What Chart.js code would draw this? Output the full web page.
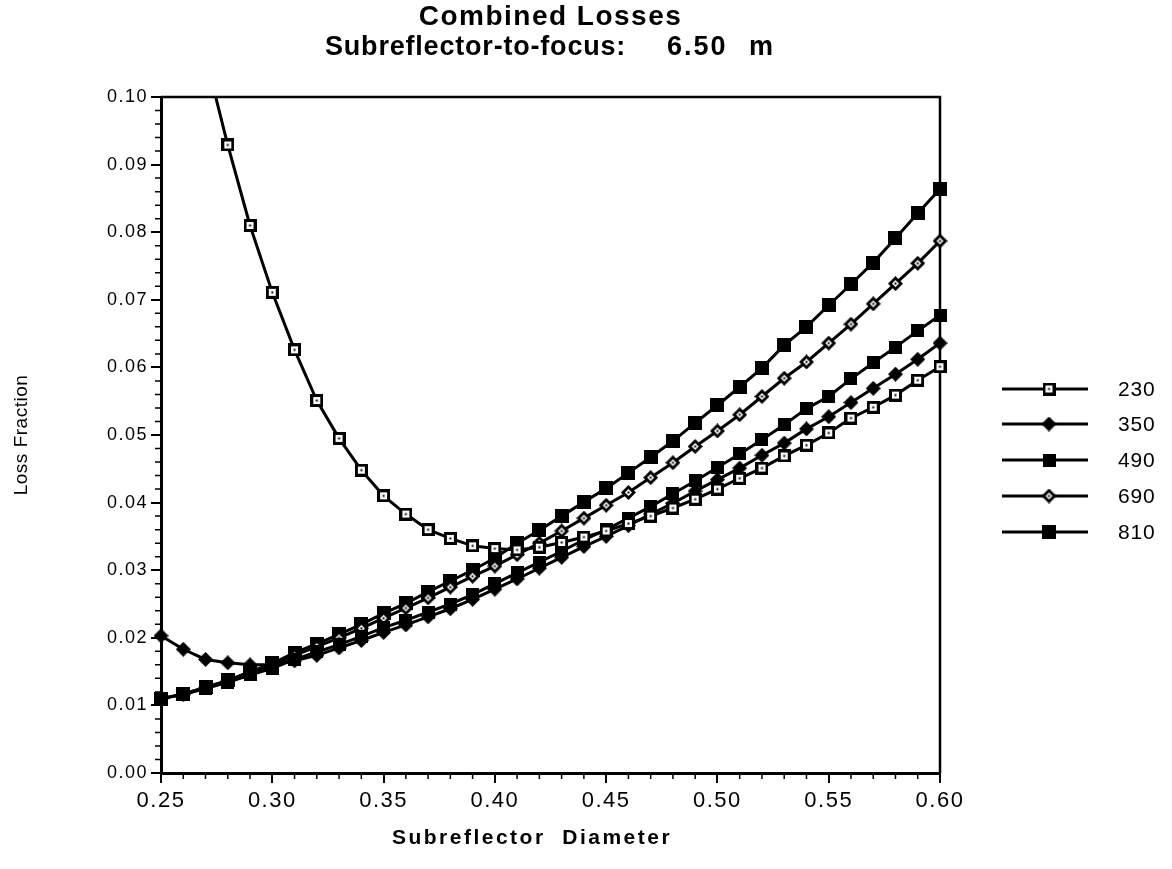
<!DOCTYPE html>
<html>
<head>
<meta charset="utf-8">
<script src="https://cdn.jsdelivr.net/npm/chart.js@4"></script>
<style>
  html, body { margin: 0; padding: 0; background: #fff; }
  #wrap { width: 1172px; height: 869px; }
</style>
</head>
<body>
<div id="wrap"><canvas id="lossChart" width="1172" height="869"></canvas></div>
<script>
// subreflector diameter (m)
const diameters = [0.25,0.26,0.27,0.28,0.29,0.30,0.31,0.32,0.33,0.34,0.35,0.36,
  0.37,0.38,0.39,0.40,0.41,0.42,0.43,0.44,0.45,0.46,0.47,0.48,0.49,0.50,0.51,
  0.52,0.53,0.54,0.55,0.56,0.57,0.58,0.59,0.60];

const seriesNames = ["230", "350", "490", "690", "810"];

const loss230 = [0.138,0.121,0.106,0.0929,0.0810,0.0711,0.0626,0.0551,0.0495,0.0448,
  0.0410,0.0383,0.0360,0.0347,0.0336,0.0332,0.0330,0.0334,0.0341,0.0349,0.0358,
  0.0369,0.0380,0.0392,0.0405,0.0420,0.0436,0.0451,0.0469,0.0485,0.0503,0.0525,
  0.0541,0.0559,0.0581,0.0601];
const loss350 = [0.0203,0.0183,0.0168,0.0163,0.0160,0.0160,0.0166,0.0174,0.0185,0.0196,
  0.0208,0.0219,0.0231,0.0243,0.0257,0.0272,0.0287,0.0303,0.0319,0.0335,0.0350,
  0.0366,0.0383,0.0399,0.0417,0.0434,0.0451,0.0470,0.0488,0.0509,0.0527,0.0548,
  0.0569,0.0590,0.0612,0.0636];
const loss490 = [0.0110,0.0116,0.0125,0.0134,0.0145,0.0155,0.0168,0.0179,0.0190,0.0202,
  0.0215,0.0226,0.0238,0.0250,0.0264,0.0280,0.0296,0.0312,0.0328,0.0345,0.0360,
  0.0377,0.0394,0.0413,0.0432,0.0452,0.0472,0.0493,0.0515,0.0539,0.0557,0.0583,
  0.0607,0.0630,0.0654,0.0677];
const loss690 = [0.0110,0.0116,0.0126,0.0136,0.0148,0.0159,0.0174,0.0187,0.0200,0.0214,
  0.0229,0.0244,0.0259,0.0275,0.0291,0.0306,0.0323,0.0340,0.0358,0.0377,0.0396,
  0.0415,0.0437,0.0459,0.0483,0.0506,0.0530,0.0557,0.0584,0.0608,0.0636,0.0664,
  0.0694,0.0724,0.0754,0.0787];
const loss810 = [0.0110,0.0117,0.0127,0.0137,0.0150,0.0162,0.0178,0.0191,0.0205,0.0220,
  0.0236,0.0251,0.0268,0.0284,0.0300,0.0318,0.0340,0.0359,0.0380,0.0401,0.0421,
  0.0444,0.0467,0.0491,0.0518,0.0544,0.0571,0.0599,0.0633,0.0660,0.0692,0.0723,
  0.0755,0.0791,0.0828,0.0864];

const FONT = '"Liberation Sans", Arial, Helvetica, sans-serif';

// little marker images, the old Mac style symbols
function marker(kind, s) {
    const c = document.createElement("canvas");
    c.width = s; c.height = s;
    const g = c.getContext("2d");
    const h = s / 2;
    g.fillStyle = "#000";
    if (kind === "sq" || kind === "sqOpen") {
        g.fillRect(0, 0, s, s);
        if (kind === "sqOpen") {
            g.fillStyle = "#fff";
            g.fillRect(3, 3, s - 6, s - 6);
            g.fillStyle = "#000";
            g.fillRect(h - 1, h - 1, 2, 2);
        }
    } else {
        g.beginPath();
        g.moveTo(h, 0); g.lineTo(s, h); g.lineTo(h, s); g.lineTo(0, h);
        g.closePath(); g.fill();
        if (kind === "diaOpen") {
            g.fillStyle = "#fff";
            g.beginPath();
            g.moveTo(h, 4); g.lineTo(s - 4, h); g.lineTo(h, s - 4); g.lineTo(4, h);
            g.closePath(); g.fill();
            g.fillStyle = "#000";
            g.fillRect(h - 1, h - 1, 2, 2);
        }
    }
    return c;
}

const markers = [
    marker("sqOpen", 13),
    marker("dia", 15),
    marker("sq", 13),
    marker("diaOpen", 15),
    marker("sq", 14)
];

const allLosses = [loss230, loss350, loss490, loss690, loss810];

const datasets = allLosses.map(function (arr, i) {
    return {
        label: seriesNames[i],
        data: diameters.map(function (d, j) { return { x: d, y: arr[j] }; }),
        borderColor: "#000",
        backgroundColor: "#000",
        borderWidth: 3,
        pointStyle: markers[i],
        pointRadius: 7,
        pointHoverRadius: 7,
        tension: 0,
        clip: { left: 15, top: 0, right: 15, bottom: 15 }
    };
});

function spacedText(ctx, txt, x, y, font, spacing, align) {
    ctx.save();
    ctx.font = font;
    ctx.letterSpacing = spacing + "px";
    ctx.fillStyle = "#000";
    ctx.textBaseline = "middle";
    ctx.textAlign = align || "left";
    ctx.fillText(txt, x, y);
    ctx.restore();
}

const framePlugin = {
    id: "frame",
    beforeDraw(chart) {
        // tick labels of the old plot are a bit spaced out
        chart.ctx.letterSpacing = "1.5px";
    },
    beforeDatasetsDraw(chart) {
        const ctx = chart.ctx;
        ctx.letterSpacing = "0px";
        const a = chart.chartArea;
        const xs = chart.scales.x, ys = chart.scales.y;
        ctx.save();
        ctx.strokeStyle = "#000";
        ctx.lineWidth = 2.5;
        ctx.beginPath();
        ctx.moveTo(a.left, a.top); ctx.lineTo(a.right, a.top);
        ctx.lineTo(a.right, a.bottom);
        ctx.stroke();
        // minor ticks
        ctx.lineWidth = 1.5;
        ctx.beginPath();
        for (let k = 0; k <= 50; k++) {
            if (k % 5 === 0) continue;
            const py = ys.getPixelForValue(k * 0.002);
            ctx.moveTo(a.left - 6, py); ctx.lineTo(a.left, py);
        }
        for (let k = 25; k <= 60; k++) {
            if (k % 5 === 0) continue;
            const px = xs.getPixelForValue(k / 100);
            ctx.moveTo(px, a.bottom); ctx.lineTo(px, a.bottom + 6);
        }
        ctx.stroke();
        ctx.restore();
    },
    afterDraw(chart) {
        const ctx = chart.ctx;
        const a = chart.chartArea;
        const mid = (a.left + a.right) / 2;

        spacedText(ctx, "Combined Losses", mid, 17, "bold 28px " + FONT, 1.5, "center");
        spacedText(ctx, "Subreflector-to-focus:", 325, 48, "bold 27px " + FONT, 0.8, "left");
        spacedText(ctx, "6.50", 667, 48, "bold 27px " + FONT, 2, "left");
        spacedText(ctx, "m", 749, 48, "bold 27px " + FONT, 0, "left");

        spacedText(ctx, "Subreflector  Diameter", 532, 838, "bold 21px " + FONT, 2.5, "center");

        ctx.save();
        ctx.translate(22, 435);
        ctx.rotate(-Math.PI / 2);
        spacedText(ctx, "Loss Fraction", 0, 0, "19px " + FONT, 0.5, "center");
        ctx.restore();

        // legend: line with marker, then the label
        const rows = [389, 424, 460, 496, 532];
        chart.data.datasets.forEach(function (ds, i) {
            const y = rows[i];
            ctx.save();
            ctx.strokeStyle = "#000";
            ctx.lineWidth = 3;
            ctx.beginPath();
            ctx.moveTo(1002, y); ctx.lineTo(1088, y);
            ctx.stroke();
            const m = ds.pointStyle;
            ctx.drawImage(m, 1049 - m.width / 2, y - m.height / 2);
            ctx.restore();
            spacedText(ctx, ds.label, 1118, y + 1, "21px " + FONT, 0.8, "left");
        });
    }
};

new Chart(
    document.getElementById("lossChart"),
    {
        type: "line",
        data: { datasets: datasets },
        options: {
            responsive: false,
            animation: false,
            layout: { padding: { top: 97, right: 232, bottom: 0, left: 0 } },
            plugins: {
                legend: { display: false },
                title: { display: false },
                tooltip: { enabled: false }
            },
            scales: {
                x: {
                    type: "linear",
                    min: 0.25,
                    max: 0.60,
                    afterFit: function (s) { s.height = 96; },
                    ticks: {
                        stepSize: 0.05,
                        color: "#000",
                        padding: 5,
                        font: { family: FONT, size: 22 },
                        maxRotation: 0,
                        callback: function (v) { return Number(v).toFixed(2); }
                    },
                    grid: { drawOnChartArea: false, tickLength: 10, color: "#000", lineWidth: 2 },
                    border: { display: true, color: "#000", width: 3 }
                },
                y: {
                    min: 0,
                    max: 0.10,
                    afterFit: function (s) { s.width = 161; },
                    ticks: {
                        stepSize: 0.01,
                        color: "#000",
                        padding: 3,
                        font: { family: FONT, size: 18 },
                        callback: function (v) { return Number(v).toFixed(2); }
                    },
                    grid: { drawOnChartArea: false, tickLength: 10, color: "#000", lineWidth: 2 },
                    border: { display: true, color: "#000", width: 3 }
                }
            }
        },
        plugins: [framePlugin]
    }
);
</script>
</body>
</html>
